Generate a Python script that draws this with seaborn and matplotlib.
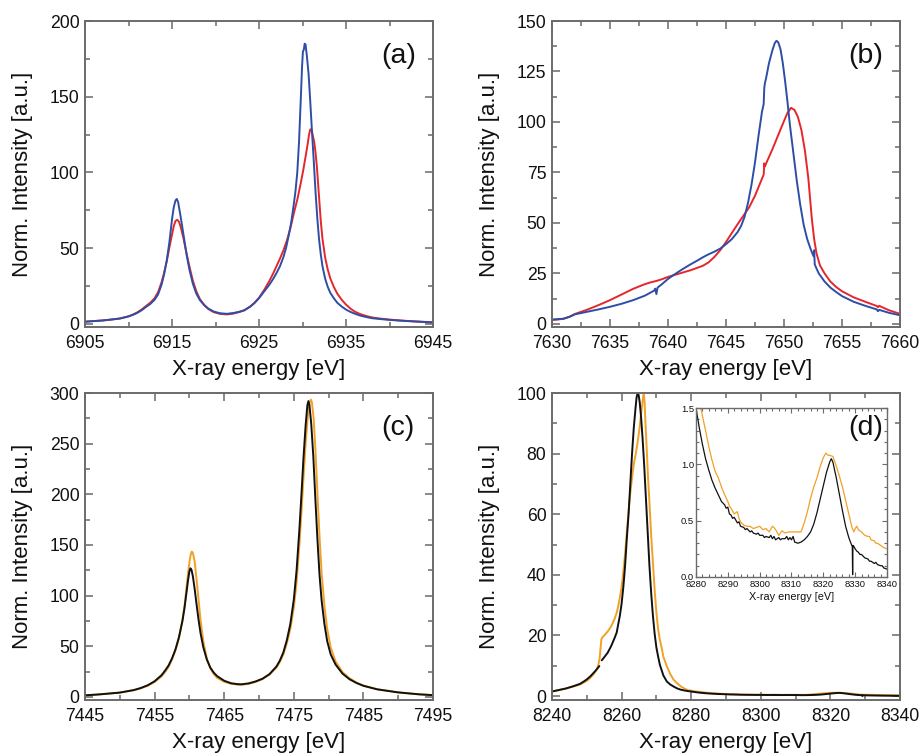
import numpy as np
import matplotlib
matplotlib.use("Agg")
import matplotlib.pyplot as plt
from matplotlib.ticker import FixedLocator, MultipleLocator
import seaborn as sns

# ---------------- data ----------------
# (a) doublet, blue and red spectra
a_blue_e = [6905, 6906, 6907, 6908, 6909, 6910, 6910.5, 6911, 6911.5, 6912,
            6912.5, 6913, 6913.4, 6913.8, 6914.1, 6914.4, 6914.7, 6915.0, 6915.2, 6915.4,
            6915.55, 6915.7, 6915.9, 6916.1, 6916.4, 6916.7, 6917.0, 6917.4, 6917.8, 6918.2,
            6918.7, 6919.2, 6919.8, 6920.5, 6921.3, 6922.0, 6922.7, 6923.3, 6924.0, 6924.5,
            6925.0, 6925.6, 6926.2, 6926.6, 6927.0, 6927.4, 6927.8, 6928.1, 6928.4, 6928.7,
            6929.0, 6929.2, 6929.4, 6929.6, 6929.8, 6929.95, 6930.05, 6930.15, 6930.25, 6930.35,
            6930.5, 6930.7, 6930.9, 6931.1, 6931.3, 6931.5, 6931.7, 6931.9, 6932.1, 6932.3,
            6932.6, 6932.9, 6933.2, 6933.6, 6934.0, 6934.5, 6935.0, 6935.5, 6936, 6936.6,
            6937.3, 6938, 6939, 6940, 6941.5, 6943, 6945]
a_blue = [1.5, 1.9, 2.3, 2.9, 3.6, 5.0, 6.0, 7.3, 9.0, 11.2,
          13.2, 16.0, 19.5, 26, 33, 42, 54, 69, 77, 81.5,
          82.5, 80.5, 74, 67, 56, 45, 36, 26.5, 20, 15.8,
          12.5, 10, 8.2, 7.1, 6.7, 7.2, 8.0, 9.0, 11.5, 14,
          17, 21.5, 26, 29.5, 33.5, 38, 44, 50, 58, 67,
          79, 88, 100, 120, 148, 170, 180, 181, 185, 184.5,
          177, 165, 146, 126, 107, 87, 70, 56, 46, 38,
          30, 24.5, 20.5, 17, 14, 11.5, 9.5, 8, 6.8, 5.6,
          4.6, 3.8, 3.2, 2.7, 2.1, 1.6, 1.0]
a_red_e = [6905, 6906, 6907, 6908, 6909, 6910, 6910.5, 6911, 6911.5, 6912,
           6912.5, 6913, 6913.4, 6913.8, 6914.1, 6914.4, 6914.7, 6915.0, 6915.2, 6915.4,
           6915.6, 6915.8, 6916.0, 6916.3, 6916.6, 6917.0, 6917.4, 6917.8, 6918.2, 6918.7,
           6919.2, 6919.8, 6920.5, 6921.3, 6922.0, 6922.7, 6923.3, 6924.0, 6924.5, 6925.0,
           6925.6, 6926.2, 6926.6, 6927.0, 6927.4, 6927.8, 6928.2, 6928.6, 6929.0, 6929.4,
           6929.8, 6930.1, 6930.4, 6930.6, 6930.75, 6930.9, 6931.05, 6931.2, 6931.35, 6931.5,
           6931.65, 6931.8, 6931.95, 6932.1, 6932.3, 6932.6, 6932.9, 6933.2, 6933.6, 6934.0,
           6934.5, 6935.0, 6935.5, 6936, 6936.6, 6937.3, 6938, 6939, 6940, 6941.5,
           6943, 6945]
a_red = [1.5, 1.9, 2.3, 2.9, 3.6, 5.0, 6.2, 7.6, 9.5, 11.8,
         14, 17, 21, 27.5, 34, 41.5, 50.5, 59, 64.5, 68,
         68.8, 67.5, 64, 57, 48.5, 38, 28.5, 21.5, 16.5, 12.5,
         9.8, 7.8, 6.7, 6.3, 6.8, 7.8, 9.0, 11.5, 14, 17.3,
         22.5, 28.5, 33, 38, 43, 48.5, 55, 63, 73, 82,
         93, 102, 112, 119, 125, 128.5, 128, 124, 120, 113,
         104, 92, 80, 68, 56, 44, 36, 30, 24.5, 20,
         16, 12.8, 10.2, 8.2, 6.6, 5.3, 4.3, 3.5, 2.9, 2.2,
         1.7, 1.1]

# (b) single line, blue and red spectra
b_blue_e = [7630, 7630.5, 7631, 7631.5, 7632, 7632.5, 7633, 7634, 7635, 7636,
            7637, 7638, 7638.8, 7638.9, 7639.0, 7639.1, 7639.5, 7640, 7640.5, 7641,
            7641.5, 7642, 7642.5, 7643, 7643.5, 7644, 7644.5, 7645, 7645.5, 7646,
            7646.3, 7646.6, 7646.9, 7647.2, 7647.5, 7647.8, 7648.1, 7648.25, 7648.3, 7648.35,
            7648.5, 7648.7, 7649.0, 7649.2, 7649.35, 7649.5, 7649.7, 7649.9, 7650.1, 7650.3,
            7650.5, 7650.8, 7651.1, 7651.4, 7651.7, 7652.0, 7652.3, 7652.55, 7652.6, 7652.65,
            7652.8, 7653, 7653.5, 7654, 7654.5, 7655, 7656, 7657, 7658, 7658.1,
            7658.2, 7659, 7660]
b_blue = [2.1, 2.4, 2.6, 3.5, 4.8, 5.4, 6.0, 7.2, 8.5, 10.0,
          11.8, 14.0, 16.5, 17.5, 14.8, 18.0, 19.8, 22.3, 24.3, 26.2,
          28.0, 29.7, 31.3, 33, 34.5, 35.8, 37.3, 39.5, 42, 45.5,
          48.5, 53, 60, 69, 80, 93, 105, 109, 117, 119,
          123, 129, 135.5, 139, 140.2, 139.5, 136, 129, 120, 110,
          99, 85, 71, 59, 49, 42, 37, 33.5, 36.5, 29.5,
          27.5, 25, 21, 18, 15.8, 13.8, 11, 9, 7.2, 6.3,
          7.0, 5.6, 4.3]
b_red_e = [7630, 7630.5, 7631, 7631.5, 7632, 7633, 7634, 7635, 7636, 7637,
           7638, 7638.5, 7639, 7639.5, 7640, 7641, 7642, 7643, 7643.5, 7644,
           7644.5, 7645, 7645.5, 7646, 7646.5, 7647, 7647.5, 7648, 7648.25, 7648.3,
           7648.35, 7648.5, 7649, 7649.5, 7650, 7650.3, 7650.6, 7650.9, 7651.2, 7651.5,
           7651.8, 7652.1, 7652.4, 7652.6, 7652.8, 7653.1, 7653.5, 7654, 7654.5, 7655,
           7656, 7657, 7658, 7658.1, 7658.2, 7659, 7660]
b_red = [2.1, 2.2, 2.6, 3.6, 5.0, 7.0, 9.3, 11.8, 14.6, 17.4,
         19.7, 20.6, 21.3, 22.2, 23.3, 25, 26.7, 28.8, 30.5, 33.2,
         36.5, 40.6, 45, 49.4, 53.6, 57.8, 63.5, 70.5, 74, 79.5,
         78, 80, 86.5, 93.5, 100.5, 104.5, 107, 106, 102.5, 96,
         86, 72, 52, 42, 35, 29, 25, 21, 18.3, 16.2,
         13.2, 11, 8.9, 8.3, 9.0, 6.9, 5.0]

# (c) doublet, black and orange spectra
c_black_e = [7445, 7447, 7450, 7452, 7453, 7454, 7455, 7456, 7456.5, 7457,
             7457.5, 7458, 7458.5, 7459, 7459.3, 7459.6, 7459.8, 7460.0, 7460.15, 7460.3,
             7460.5, 7460.75, 7461.0, 7461.3, 7461.6, 7462.0, 7462.5, 7463.0, 7463.5, 7464.0,
             7465.0, 7466.0, 7467.0, 7467.5, 7468.5, 7469.5, 7470.5, 7471.5, 7472.5, 7473.0,
             7473.5, 7474.0, 7474.5, 7475.0, 7475.4, 7475.8, 7476.1, 7476.4, 7476.7, 7476.95,
             7477.1, 7477.25, 7477.5, 7477.8, 7478.1, 7478.4, 7478.7, 7479.0, 7479.4, 7479.8,
             7480.3, 7481, 7482, 7483, 7484, 7485, 7487, 7490, 7493, 7495]
c_black = [1.6, 2.5, 4.3, 6.8, 8.8, 11.5, 15.5, 21.5, 26, 31,
           38, 47, 59, 75, 88, 104, 115, 124, 127, 125.5,
           119, 107, 93, 77, 63, 49, 37, 29, 24, 20.5,
           16, 13.5, 12.6, 12.5, 13.4, 15.3, 18, 22.5, 30, 36,
           44, 56, 72, 96, 125, 165, 200, 237, 268, 288,
           292, 288, 270, 238, 195, 155, 120, 95, 72, 55,
           42, 32, 23, 17.5, 13.8, 11, 7.5, 4.5, 2.6, 1.8]
c_orange_e = [7445, 7447, 7450, 7452, 7453, 7454, 7455, 7456, 7456.5, 7457,
              7457.5, 7458, 7458.5, 7459, 7459.3, 7459.6, 7459.8, 7460.0, 7460.2, 7460.35,
              7460.5, 7460.75, 7461.0, 7461.3, 7461.6, 7462.0, 7462.5, 7463.0, 7463.5, 7464.0,
              7465.0, 7466.0, 7467.0, 7467.5, 7468.5, 7469.5, 7470.5, 7471.5, 7472.5, 7473.0,
              7473.5, 7474.0, 7474.5, 7475.0, 7475.4, 7475.8, 7476.1, 7476.4, 7476.7, 7477.0,
              7477.25, 7477.45, 7477.6, 7477.85, 7478.1, 7478.4, 7478.7, 7479.0, 7479.4, 7479.8,
              7480.3, 7481, 7482, 7483, 7484, 7485, 7487, 7490, 7493, 7495]
c_orange = [1.6, 2.5, 4.3, 6.7, 8.5, 11, 14.8, 20.3, 24.5, 29.5,
            37, 46, 58, 76, 90, 109, 122, 133, 141, 143.5,
            142, 134, 118, 97, 76, 55, 38, 28.5, 22.5, 18.8,
            15, 13, 12.1, 12.0, 12.9, 14.8, 17.6, 22, 29, 34.5,
            42, 53, 67, 88, 113, 150, 182, 217, 250, 276,
            290, 293.5, 291, 275, 245, 200, 158, 122, 90, 67,
            49, 35, 24.5, 18.5, 14.3, 11.3, 7.6, 4.5, 2.6, 1.8]

# (d) single line; the black scan has a gap near 8254 eV
d_black1_e = [8240, 8242, 8244, 8246, 8248, 8249, 8250, 8251, 8252, 8253, 8253.6]
d_black1 = [1.5, 2.0, 2.5, 3.2, 4.0, 4.7, 5.5, 6.5, 7.7, 9.0, 9.9]
d_black2_e = [8254.3, 8255, 8256, 8257, 8258, 8258.6, 8259, 8259.5, 8260, 8260.5,
              8261, 8261.5, 8262, 8262.5, 8263, 8263.5, 8264, 8264.3, 8264.6, 8264.9,
              8265.2, 8265.6, 8266, 8266.5, 8267, 8267.5, 8268, 8268.5, 8269, 8269.5,
              8270, 8270.5, 8271, 8272, 8273, 8274, 8275, 8276, 8277, 8278,
              8279]
d_black2 = [11.8, 12.8, 14.3, 16.5, 19.2, 21, 23.5, 26.5, 30.5, 36,
            43, 52, 60, 70, 80, 88.5, 95, 98.5, 100, 99.3,
            97, 92, 85.5, 76, 65, 54, 43, 34, 26.5, 20.5,
            16, 13, 10.3, 6.8, 4.8, 3.8, 3.1, 2.5, 2.1, 1.85,
            1.65]
d_orange_e = [8240, 8242, 8244, 8246, 8248, 8249, 8250, 8251, 8252, 8252.7,
              8253.3, 8253.7, 8254, 8254.2, 8254.5, 8255, 8256, 8257, 8258, 8258.6,
              8259, 8259.5, 8260, 8260.5, 8261, 8261.5, 8262, 8262.5, 8263, 8263.5,
              8264, 8264.5, 8265, 8265.5, 8266, 8266.35, 8266.6, 8266.9, 8267.2, 8267.6,
              8268, 8268.5, 8269, 8269.5, 8270, 8270.5, 8271, 8271.5, 8272, 8273,
              8274, 8275, 8276, 8277, 8278, 8279]
d_orange = [1.5, 2.0, 2.5, 3.1, 3.8, 4.4, 5.0, 6.0, 7.3, 8.5,
            10.2, 12.5, 16.5, 18.8, 19.4, 20.0, 21.3, 23, 25.5, 27.5,
            29.5, 32.5, 36, 41, 47, 54, 61, 67, 72, 76.5,
            79.5, 83, 87, 92, 97, 100, 97, 89, 82, 72,
            64, 53, 44, 35, 27.5, 22, 18.5, 16, 13, 9.8,
            7.2, 5.3, 4.2, 3.2, 2.5, 2.0]

# (d) inset: weak satellite region
ins_black_e = [8280, 8281, 8282, 8283, 8284, 8285, 8286, 8287, 8288, 8289,
               8289.5, 8290, 8290.5, 8291, 8291.5, 8292, 8293, 8293.5, 8294, 8295,
               8295.5, 8296, 8297, 8297.5, 8298, 8299, 8299.5, 8300, 8301, 8301.5,
               8302, 8303, 8303.5, 8304, 8304.5, 8305, 8306, 8306.5, 8307, 8308,
               8308.5, 8309, 8309.5, 8310, 8310.5, 8311, 8312, 8313, 8314, 8315,
               8316, 8317, 8318, 8319, 8320, 8321, 8322, 8322.5, 8323, 8324,
               8325, 8326, 8327, 8328, 8328.8, 8329.1, 8329.2, 8329.3, 8329.6, 8330,
               8330.5, 8331, 8331.5, 8332, 8333, 8334, 8334.5, 8335, 8336, 8336.5,
               8337, 8338, 8338.5, 8339, 8340]
ins_black = [1.50, 1.33, 1.18, 1.05, 0.95, 0.86, 0.79, 0.73, 0.67, 0.64,
             0.61, 0.62, 0.56, 0.55, 0.52, 0.53, 0.48, 0.49, 0.45, 0.44,
             0.42, 0.43, 0.40, 0.41, 0.39, 0.38, 0.39, 0.37, 0.37, 0.35,
             0.36, 0.35, 0.37, 0.34, 0.36, 0.33, 0.35, 0.33, 0.34, 0.34,
             0.36, 0.33, 0.35, 0.33, 0.36, 0.31, 0.30, 0.31, 0.33, 0.36,
             0.40, 0.47, 0.57, 0.69, 0.81, 0.93, 1.02, 1.05, 1.02, 0.89,
             0.74, 0.59, 0.45, 0.35, 0.29, 0.27, 0.02, 0.28, 0.27, 0.25,
             0.23, 0.22, 0.20, 0.20, 0.17, 0.16, 0.14, 0.14, 0.12, 0.13,
             0.11, 0.10, 0.10, 0.08, 0.07]
ins_orange_e = [8280, 8281.5, 8283, 8284, 8285, 8286, 8287, 8288, 8289, 8290,
                8290.5, 8291, 8292, 8293, 8293.5, 8294, 8295, 8296, 8297, 8298,
                8299, 8300, 8301, 8302, 8303, 8304, 8304.5, 8305, 8306, 8307,
                8308, 8309, 8310, 8311, 8312, 8313, 8314, 8315, 8316, 8317,
                8318, 8319, 8320, 8320.8, 8321.5, 8322, 8323, 8324, 8325, 8326,
                8327, 8328, 8329, 8329.6, 8330, 8330.5, 8331, 8332, 8333, 8334,
                8334.5, 8335, 8336, 8336.5, 8337, 8338, 8339, 8340]
ins_orange = [1.75, 1.50, 1.30, 1.16, 1.04, 0.94, 0.88, 0.80, 0.73, 0.67,
              0.63, 0.61, 0.56, 0.58, 0.52, 0.49, 0.46, 0.45, 0.45, 0.43,
              0.44, 0.45, 0.42, 0.43, 0.40, 0.45, 0.44, 0.42, 0.37, 0.41,
              0.39, 0.40, 0.40, 0.40, 0.40, 0.40, 0.48, 0.58, 0.70, 0.80,
              0.88, 0.98, 1.06, 1.10, 1.08, 1.08, 1.07, 0.99, 0.90, 0.80,
              0.68, 0.56, 0.44, 0.40, 0.43, 0.45, 0.42, 0.40, 0.37, 0.36,
              0.36, 0.33, 0.32, 0.30, 0.30, 0.28, 0.26, 0.25]

# tick values
a_xticks = [6905, 6915, 6925, 6935, 6945]
a_yticks = [0, 50, 100, 150, 200]
b_xticks = [7630, 7635, 7640, 7645, 7650, 7655, 7660]
b_yticks = [0, 25, 50, 75, 100, 125, 150]
c_xticks = [7445, 7455, 7465, 7475, 7485, 7495]
c_yticks = [0, 50, 100, 150, 200, 250, 300]
d_xticks = [8240, 8260, 8280, 8300, 8320, 8340]
d_yticks = [0, 20, 40, 60, 80, 100]
ins_xticks = [8280, 8290, 8300, 8310, 8320, 8330, 8340]
ins_yticks = [0.0, 0.5, 1.0, 1.5]

# ---------------- style ----------------
sns.set_theme(style="ticks")
plt.rcParams["font.family"] = ["Liberation Sans", "DejaVu Sans"]
plt.rcParams["axes.linewidth"] = 1.4

BLUE = "#2e4ea6"
RED = "#e6262a"
ORANGE = "#f0a126"
BLACK = "#111111"
FRAME = "#6b6b6b"

fig = plt.figure(figsize=(9.2, 7.54), dpi=100)


def curve(ax, x, y, color, lw=1.4):
    sns.lineplot(x=x, y=y, ax=ax, color=color, lw=lw, estimator=None,
                 sort=False, legend=False)


def frame(ax, xlim, ylim, xticks, xminor, yticks, yminor, fs=12.7,
          maj=6, mnr=3.5, lw=1.4, xpad=6, ypad=4):
    ax.set_xlim(*xlim)
    ax.set_ylim(*ylim)
    ax.xaxis.set_major_locator(FixedLocator(xticks))
    ax.yaxis.set_major_locator(FixedLocator(yticks))
    ax.xaxis.set_minor_locator(MultipleLocator(xminor))
    ax.yaxis.set_minor_locator(MultipleLocator(yminor))
    ax.tick_params(which="both", direction="in", top=True, right=True,
                   color=FRAME, width=lw * 0.8, labelsize=fs,
                   labelcolor="#111111")
    ax.tick_params(axis="x", pad=xpad)
    ax.tick_params(axis="y", pad=ypad)
    ax.tick_params(which="major", length=maj)
    ax.tick_params(which="minor", length=mnr)
    for s in ax.spines.values():
        s.set_color(FRAME)
        s.set_linewidth(lw)
    ax.set_facecolor("white")


def labels(ax):
    ax.set_xlabel("X-ray energy [eV]", fontsize=16, color="#111111")
    ax.set_ylabel("Norm. Intensity [a.u.]", fontsize=16, color="#111111")
    ax.xaxis.set_label_coords(0.5, -0.105)
    ax.yaxis.set_label_coords(-0.15, 0.5)


W, H = 920.0, 754.0


def place(left, top, right, bottom):
    return [left / W, 1 - bottom / H, (right - left) / W, (bottom - top) / H]


ax_a = fig.add_axes(place(85, 21, 433, 327))
ax_b = fig.add_axes(place(552, 21, 900, 327))
ax_c = fig.add_axes(place(85, 393, 433, 700))
ax_d = fig.add_axes(place(552, 393, 900, 700))
ax_in = fig.add_axes(place(696, 408, 887, 577))

# (a)
curve(ax_a, a_red_e, a_red, RED)
curve(ax_a, a_blue_e, a_blue, BLUE)
frame(ax_a, (6905, 6945), (-2, 200), a_xticks, 5, a_yticks, 25)
labels(ax_a)

# (b)
curve(ax_b, b_red_e, b_red, RED)
curve(ax_b, b_blue_e, b_blue, BLUE)
frame(ax_b, (7630, 7660), (-1.5, 150), b_xticks, 2.5, b_yticks, 12.5)
labels(ax_b)

# (c)
curve(ax_c, c_orange_e, c_orange, ORANGE)
curve(ax_c, c_black_e, c_black, BLACK)
frame(ax_c, (7445, 7495), (-3, 300), c_xticks, 5, c_yticks, 25)
labels(ax_c)

# (d) main panel, the satellite region reuses the inset scans
curve(ax_d, d_orange_e + ins_orange_e, d_orange + ins_orange, ORANGE)
curve(ax_d, d_black1_e, d_black1, BLACK)
curve(ax_d, d_black2_e + ins_black_e, d_black2 + ins_black, BLACK)
frame(ax_d, (8240, 8340), (-1.3, 100), d_xticks, 10, d_yticks, 10)
labels(ax_d)

# (d) inset
curve(ax_in, ins_orange_e, ins_orange, ORANGE, lw=0.9)
curve(ax_in, ins_black_e, ins_black, BLACK, lw=0.9)
frame(ax_in, (8280, 8340), (0, 1.5), ins_xticks, 2, ins_yticks, 0.1,
      fs=6.8, maj=3.5, mnr=2, lw=1.0, xpad=2.5, ypad=1.5)
ax_in.set_xticklabels([str(v) for v in ins_xticks])
ax_in.set_yticklabels([f"{v:.1f}" for v in ins_yticks])
ax_in.set_xlabel("X-ray energy [eV]", fontsize=7.8, color="#111111", labelpad=2)
ax_in.set_ylabel("")

# panel letters
for ax, tag in [(ax_a, "(a)"), (ax_b, "(b)"), (ax_c, "(c)"), (ax_d, "(d)")]:
    fig.text(0.90, 0.885, tag, transform=ax.transAxes, fontsize=20.5,
             ha="center", va="center", color="#111111")

fig.savefig("out.png", dpi=100, facecolor="white")
